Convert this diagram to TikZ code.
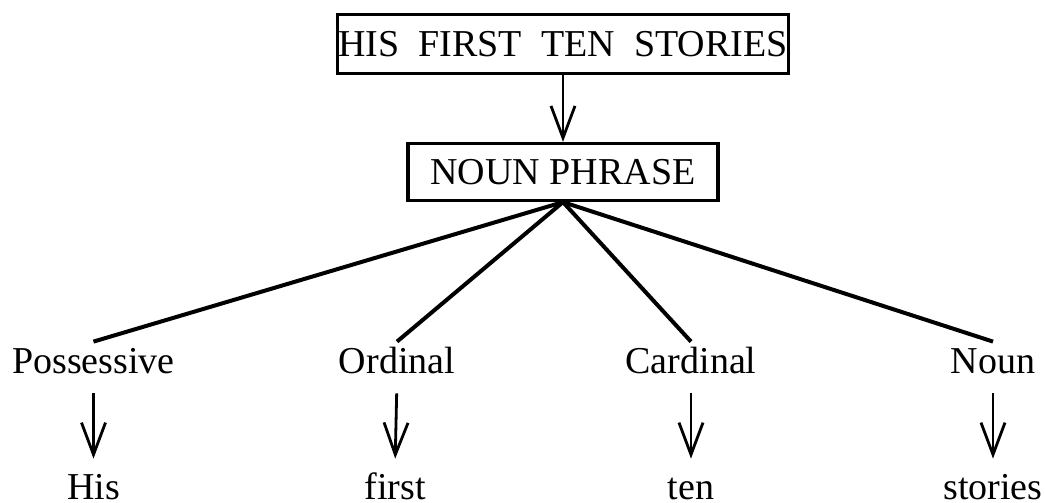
\documentclass[tikz,border=0pt]{standalone}
\usepackage{fontspec}
\setmainfont{Liberation Serif}
\usetikzlibrary{arrows.meta}

\begin{document}
\begin{tikzpicture}[x=0.5pt,y=-0.5pt,
  font=\fontsize{19}{23}\selectfont,
  box/.style={draw,line width=1.6pt,inner sep=0pt},
  word/.style={anchor=base,inner sep=3pt,text height=12.5pt,text depth=0pt}]
  \useasboundingbox (0,0) rectangle (1045,503);
  \node[box,minimum width=225.5pt,minimum height=29.5pt] (title) at (563,44)
    {HIS\enspace FIRST\enspace TEN\enspace STORIES};
  \node[box,minimum width=155pt,minimum height=28.5pt] (np) at (563,172)
    {NOUN\ PHRASE};
  \node[word] (poss) at (93.5,373) {Possessive};
  \node[word] (ord)  at (397,373)  {Ordinal};
  \node[word] (card) at (691,373)  {Cardinal};
  \node[word] (noun) at (993,373)  {Noun};
  \node[word] (his)     at (93.5,499) {His};
  \node[word] (first)   at (395,499)  {first};
  \node[word] (ten)     at (691,499)  {ten};
  \node[word] (stories) at (993,499)  {stories};
  \path[line width=2pt]
    (np.south) edge (poss.north)
    (np.south) edge (ord.north)
    (np.south) edge (card.north)
    (np.south) edge (noun.north);
  \path[-{Straight Barb[length=16pt,width=12pt]},line width=1.4pt]
    (title.south) edge (np.north)
    (poss.south) edge[shorten <=7pt,shorten >=4.5pt] (his.north)
    (ord.south) edge[shorten <=7pt,shorten >=4.5pt] (first.north)
    (card.south) edge[shorten <=7pt,shorten >=4.5pt] (ten.north)
    (noun.south) edge[shorten <=7pt,shorten >=4.5pt] (stories.north);
\end{tikzpicture}
\end{document}
